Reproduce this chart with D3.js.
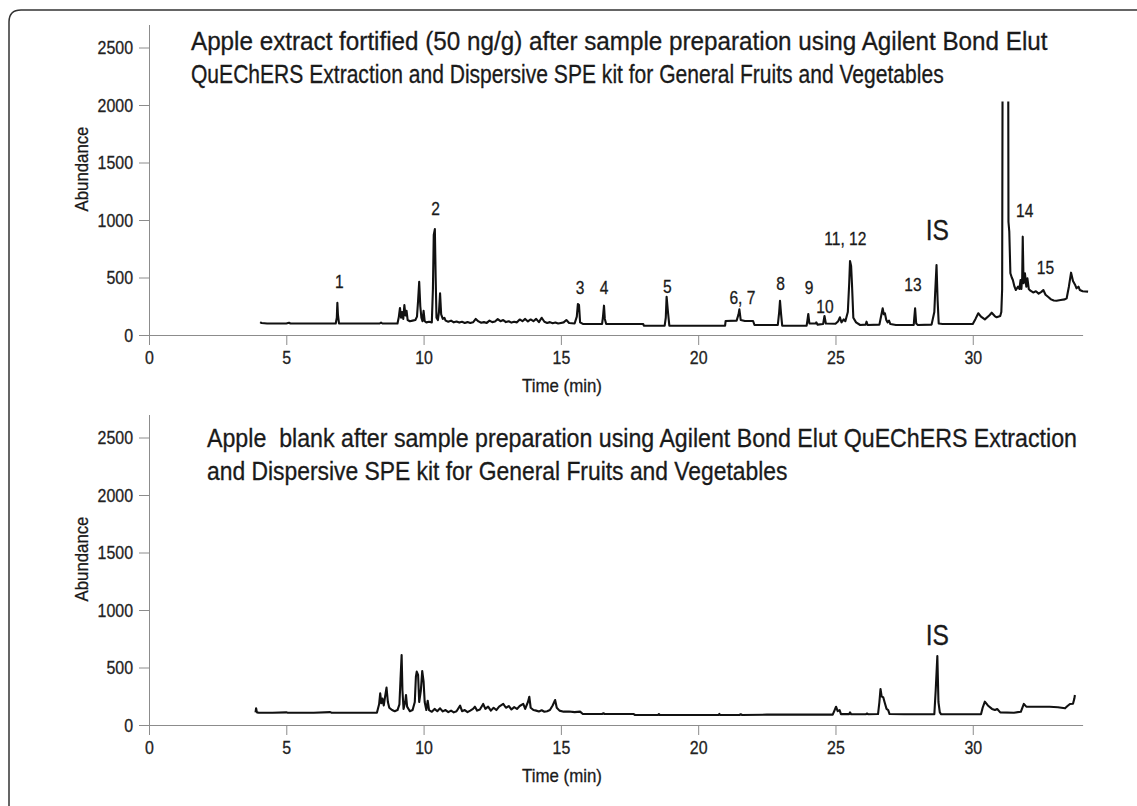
<!DOCTYPE html>
<html>
<head>
<meta charset="utf-8">
<script src="https://cdn.jsdelivr.net/npm/d3@7"></script>
<style>
body { margin: 0; background: #fff; }
text { font-family: "Liberation Sans", Arial, sans-serif; fill: #1a1a1a; stroke: #1a1a1a; stroke-width: 0.3px; }
.axis path, .axis line { stroke: #8c8c8c; stroke-width: 1; }
.axis text { fill: #222; stroke: #222; }
.trace { fill: none; stroke: #111; stroke-width: 2.1; stroke-linejoin: round; }
</style>
</head>
<body>
<svg id="chart" width="1137" height="806"></svg>
<script>
// chart data: [time (min), abundance]
const xTicks = [0, 5, 10, 15, 20, 25, 30];
const yTicks = [0, 500, 1000, 1500, 2000, 2500];

const fortifiedTitle = [
  "Apple extract fortified (50 ng/g) after sample preparation using Agilent Bond Elut",
  "QuEChERS Extraction and Dispersive SPE kit for General Fruits and Vegetables"
];
const blankTitle = [
  "Apple  blank after sample preparation using Agilent Bond Elut QuEChERS Extraction",
  "and Dispersive SPE kit for General Fruits and Vegetables"
];

const fortifiedTrace = [
  [4.05,112],[4.1,104],[4.3,100],[5.0,100],[5.1,106],[5.15,100],[6.0,100],[6.8,100],[6.84,150],[6.86,280],
  [6.88,180],[6.92,100],[8.0,100],[8.4,100],[8.45,108],[8.5,100],[9.05,100],[9.1,160],[9.14,235],[9.18,150],
  [9.22,200],[9.26,140],[9.3,260],[9.34,170],[9.38,210],[9.42,130],[9.5,120],[9.6,125],[9.7,130],[9.76,160],
  [9.8,300],[9.84,463],[9.88,250],[9.92,150],[9.96,120],[10.0,211],[10.04,120],[10.1,110],[10.2,115],[10.3,110],
  [10.34,400],[10.37,870],[10.41,921],[10.44,500],[10.47,150],[10.52,130],[10.56,200],[10.6,363],[10.64,180],[10.7,140],
  [10.76,150],[10.8,125],[10.9,115],[11.0,125],[11.1,110],[11.2,118],[11.3,108],[11.4,115],[11.5,105],[11.6,112],
  [11.7,104],[11.8,110],[11.9,140],[12.0,118],[12.1,106],[12.2,112],[12.3,105],[12.4,125],[12.5,112],[12.6,118],
  [12.7,138],[12.8,120],[12.9,130],[13.0,112],[13.1,120],[13.2,108],[13.3,115],[13.4,110],[13.5,135],[13.6,120],
  [13.7,140],[13.8,118],[13.9,135],[14.0,120],[14.1,140],[14.2,112],[14.3,150],[14.4,115],[14.5,105],[14.6,112],
  [14.7,102],[14.8,108],[14.9,100],[15.0,105],[15.1,110],[15.2,130],[15.3,105],[15.5,100],[15.58,160],[15.62,270],
  [15.66,260],[15.7,110],[15.8,96],[16.5,96],[16.53,150],[16.57,255],[16.6,140],[16.65,96],[18.0,96],[18.02,81],
  [18.78,81],[18.82,150],[18.85,333],[18.9,200],[18.95,81],[20.98,81],[21.0,122],[21.4,125],[21.47,180],[21.5,223],
  [21.55,130],[21.7,122],[22.0,122],[22.05,87],[22.9,87],[22.95,200],[22.98,298],[23.02,180],[23.06,81],[23.95,81],
  [23.98,130],[24.01,183],[24.05,100],[24.28,100],[24.3,110],[24.35,90],[24.55,95],[24.6,165],[24.65,100],[25.0,98],
  [25.1,120],[25.16,154],[25.22,110],[25.3,136],[25.36,120],[25.45,200],[25.5,450],[25.53,643],[25.57,600],[25.6,450],
  [25.65,150],[25.75,110],[25.9,87],[26.1,90],[26.13,116],[26.17,87],[26.6,90],[26.65,150],[26.72,232],[26.76,180],
  [26.8,189],[26.85,130],[26.9,110],[26.95,125],[27.0,95],[27.2,87],[27.85,87],[27.87,150],[27.9,232],[27.94,100],
  [28.0,87],[28.5,90],[28.6,200],[28.63,363],[28.68,609],[28.72,300],[28.76,100],[28.9,96],[30.0,96],[30.1,140],
  [30.2,189],[30.3,160],[30.44,136],[30.6,170],[30.69,194],[30.8,165],[30.87,154],[31.0,165],[31.04,200],[31.07,400],
  [31.1,4000],[31.28,4000],[31.3,985],[31.33,900],[31.37,537],[31.42,500],[31.46,478],[31.52,420],[31.57,391],[31.65,420],
  [31.7,400],[31.74,478],[31.77,400],[31.8,500],[31.82,855],[31.85,450],[31.9,537],[31.95,420],[31.99,493],[32.04,400],
  [32.1,385],[32.2,370],[32.3,380],[32.4,360],[32.5,375],[32.57,391],[32.65,350],[32.75,330],[32.85,310],[32.95,300],
  [33.05,298],[33.2,305],[33.35,310],[33.42,319],[33.5,420],[33.58,542],[33.65,470],[33.72,440],[33.78,406],[33.85,420],
  [33.9,391],[34.0,380],[34.2,377]
];

const blankTrace = [
  [3.88,110],[3.9,145],[3.93,110],[4.0,107],[4.5,107],[5.0,110],[5.05,107],[6.0,107],[6.6,112],[6.65,107],
  [7.5,107],[8.3,107],[8.38,180],[8.42,276],[8.46,190],[8.5,230],[8.55,170],[8.6,250],[8.65,325],[8.7,200],
  [8.75,150],[8.85,130],[8.95,120],[9.05,130],[9.12,180],[9.16,400],[9.2,609],[9.23,300],[9.27,140],[9.33,200],
  [9.36,261],[9.4,160],[9.5,120],[9.6,130],[9.68,200],[9.72,420],[9.75,464],[9.8,435],[9.84,200],[9.9,300],
  [9.95,470],[10.0,377],[10.04,200],[10.1,130],[10.15,211],[10.2,130],[10.3,115],[10.4,140],[10.5,120],[10.6,145],
  [10.7,118],[10.8,130],[10.9,112],[11.0,125],[11.1,110],[11.2,120],[11.33,168],[11.4,120],[11.5,130],[11.6,112],
  [11.7,125],[11.8,140],[11.87,159],[11.95,125],[12.05,135],[12.17,183],[12.25,140],[12.35,160],[12.45,125],[12.55,150],
  [12.65,130],[12.75,160],[12.9,183],[13.0,150],[13.1,165],[13.2,135],[13.3,155],[13.4,140],[13.5,165],[13.63,183],
  [13.7,140],[13.8,200],[13.85,246],[13.9,150],[14.0,130],[14.1,125],[14.2,118],[14.3,128],[14.4,115],[14.5,120],
  [14.6,130],[14.7,170],[14.79,217],[14.85,150],[14.95,125],[15.1,116],[15.3,118],[15.5,112],[15.7,116],[15.8,96],
  [16.5,96],[16.55,102],[16.6,96],[17.64,96],[17.7,87],[18.54,87],[18.57,95],[18.6,87],[20.75,87],[20.77,97],
  [20.8,87],[21.5,87],[21.55,93],[21.6,87],[22.5,90],[24.9,90],[24.97,130],[25.02,159],[25.08,120],[25.15,130],
  [25.2,95],[25.5,95],[25.53,110],[25.57,93],[26.1,93],[26.15,100],[26.2,93],[26.55,95],[26.6,200],[26.64,313],
  [26.68,250],[26.74,241],[26.8,189],[26.86,140],[26.92,130],[26.97,95],[27.5,93],[28.6,93],[28.65,300],[28.71,600],
  [28.75,200],[28.8,110],[28.85,93],[30.3,93],[30.36,150],[30.44,203],[30.55,170],[30.7,140],[30.81,130],[30.89,139],
  [31.0,110],[31.5,107],[31.75,115],[31.86,183],[31.95,160],[32.2,159],[32.8,159],[33.1,155],[33.36,145],[33.45,165],
  [33.54,183],[33.65,185],[33.7,230],[33.72,261]
];

// peak labels: [text, time, abundance of label baseline]
const fortifiedLabels = [
  ["1",6.93,406],["2",10.44,1043],["3",15.70,357],["4",16.57,357],["5",18.88,363],["6, 7",21.61,270],
  ["8",23.0,391],["9",24.04,357],["10",24.62,194],["11, 12",25.36,783],["13",27.82,383],["IS",28.71,826],
  ["14",31.89,1029],["15",32.65,530]
];
const blankLabels = [["IS",28.71,696]];

const svg = d3.select("#chart");

// squeeze a regular sans into the narrow look of the original lettering,
// scaling horizontally about each text's own anchor point
function condense(sel, k) {
  sel.each(function (d, i) {
    const t = d3.select(this);
    const ax = +t.attr("x") || 0, ay = +t.attr("y") || 0;
    const f = typeof k === "function" ? k.call(this, d, i) : k;
    const prev = t.attr("transform") || "";
    t.attr("transform", `${prev} translate(${ax},${ay}) scale(${f},1) translate(${-ax},${-ay})`);
  });
}

// frame with rounded top-left corner
svg.append("path")
  .attr("d", "M9,812 L9,22 Q9,10 21,10 L1140,10")
  .attr("fill", "none").attr("stroke", "#333").attr("stroke-width", 1.5);

const x = d3.scaleLinear().domain([0, 34]).range([149, 1082.6]);

const panels = [
  { trace: fortifiedTrace, labels: fortifiedLabels, title: fortifiedTitle, y0: 335, tx: 191, ty: 50, tl: [857, 753] },
  { trace: blankTrace, labels: blankLabels, title: blankTitle, y0: 725, tx: 207, ty: 447, tl: [870, 581] }
];

panels.forEach((p, i) => {
  const y = d3.scaleLinear().domain([0, 2700]).range([p.y0, p.y0 - 310.5]);
  const g = svg.append("g");

  const ax = g.append("g").attr("class", "axis")
    .attr("transform", `translate(0,${p.y0})`)
    .call(d3.axisBottom(x).tickValues(xTicks).tickSize(10).tickSizeOuter(0).tickPadding(6).tickFormat(d3.format("d")));
  const ay = g.append("g").attr("class", "axis")
    .attr("transform", `translate(${x(0)},0)`)
    .call(d3.axisLeft(y).tickValues(yTicks).tickSize(10).tickSizeOuter(0).tickPadding(6).tickFormat(d3.format("d")));
  ax.selectAll("text").style("font-size", "19px").call(condense, 0.84);
  ay.selectAll("text").style("font-size", "19px").call(condense, 0.84);

  g.append("text").attr("transform", `translate(88,${p.y0 - 166}) rotate(-90)`)
    .attr("text-anchor", "middle").style("font-size", "18px").text("Abundance")
    .call(condense, function () { return 85 / this.getComputedTextLength(); });
  g.append("text").attr("x", 562).attr("y", p.y0 + 57)
    .attr("text-anchor", "middle").style("font-size", "18px").text("Time (min)")
    .call(condense, function () { return 80 / this.getComputedTextLength(); });

  p.title.forEach((line, k) => {
    g.append("text").attr("x", p.tx).attr("y", p.ty + k * 33)
      .style("font-size", "25px").style("white-space", "pre").text(line)
      .call(condense, function () { return p.tl[k] / this.getComputedTextLength(); });
  });

  // clip at the top of the recorded range (the big peak goes off scale)
  const clipId = "clip" + i;
  g.append("clipPath").attr("id", clipId).append("rect")
    .attr("x", 140).attr("y", y(2030)).attr("width", 980).attr("height", p.y0 - y(2030));

  const line = d3.line().x(d => x(d[0])).y(d => y(d[1]));
  g.append("path").datum(p.trace).attr("class", "trace")
    .attr("clip-path", `url(#${clipId})`).attr("d", line);

  g.selectAll("text.peak").data(p.labels).join("text").attr("class", "peak")
    .attr("x", d => x(d[1])).attr("y", d => y(d[2]))
    .attr("text-anchor", "middle")
    .style("font-size", d => d[0] === "IS" ? "30px" : "19px")
    .text(d => d[0])
    .call(condense, 0.82);
});
</script>
</body>
</html>
